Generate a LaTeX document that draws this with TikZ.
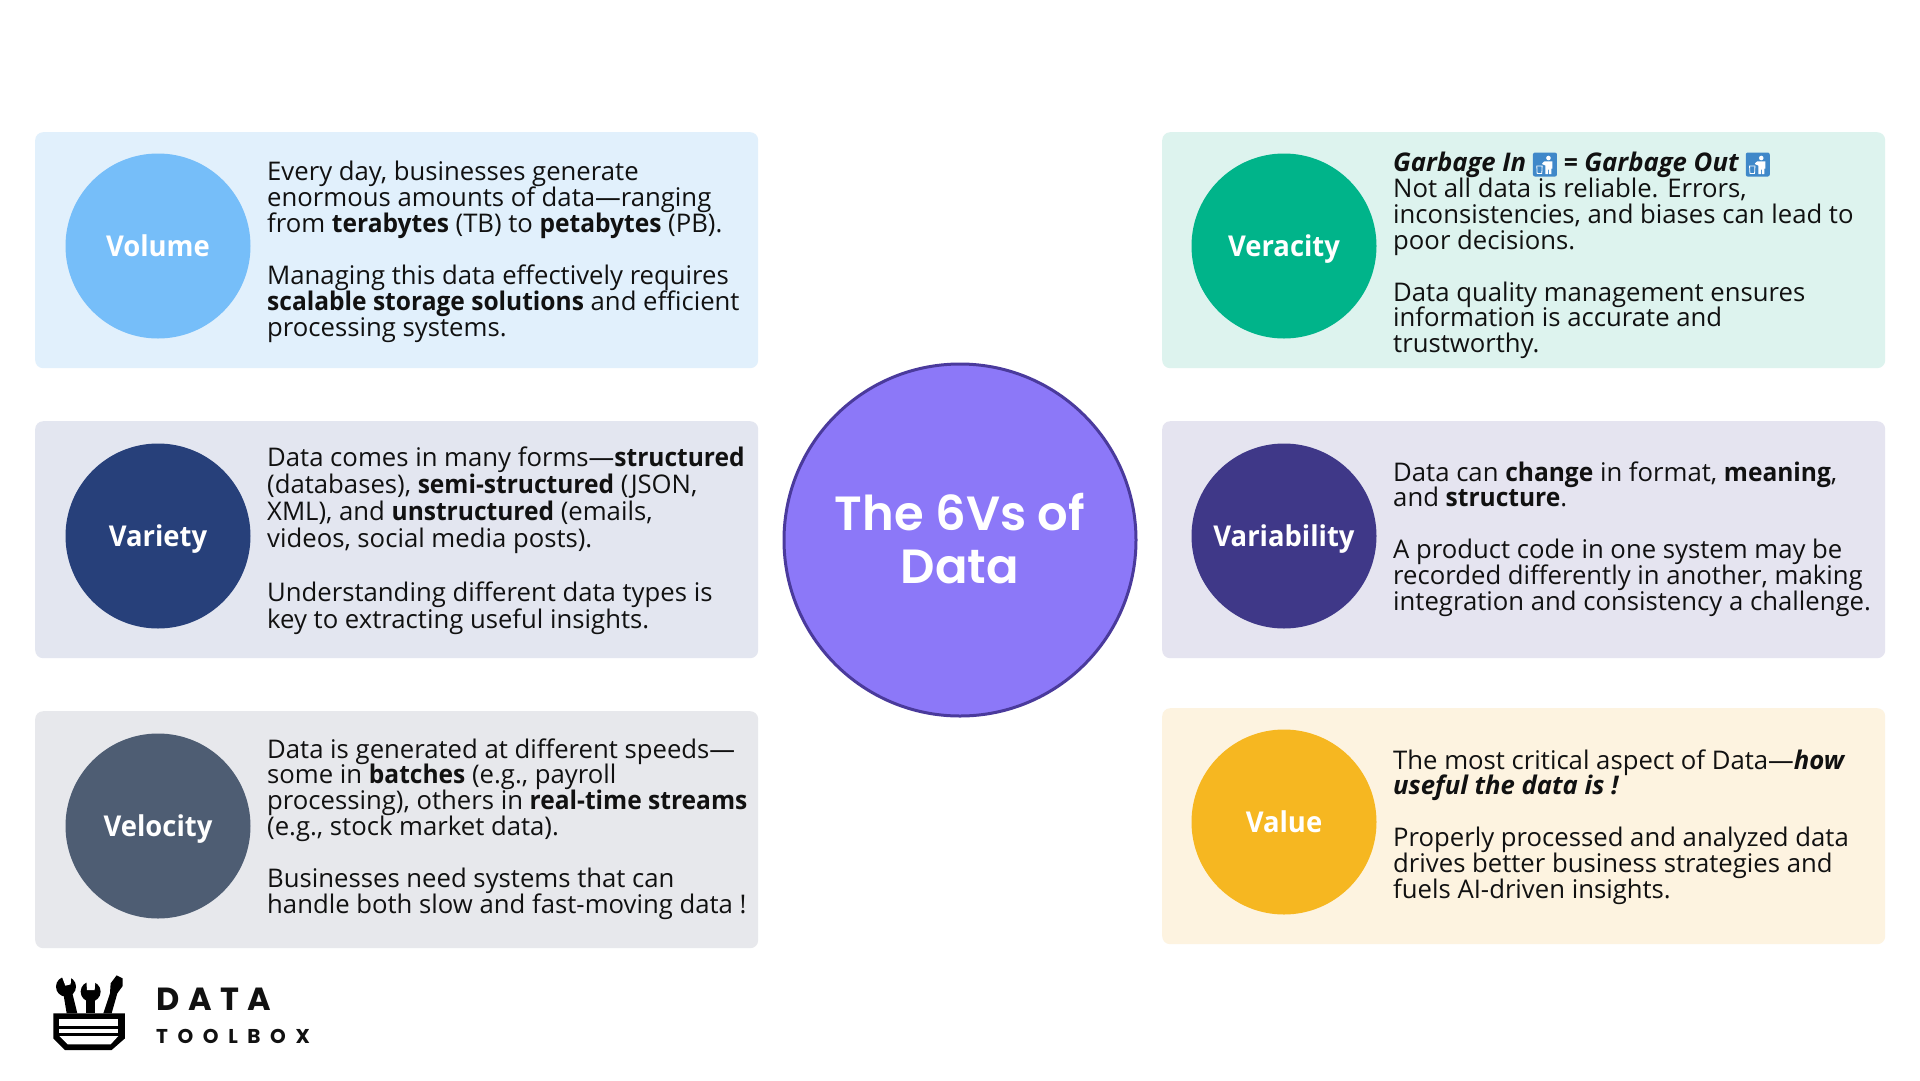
\documentclass[tikz,border=0pt]{standalone}
\usepackage{fontspec}
\setmainfont{Open Sans}[BoldFeatures={FakeStretch=0.955}]
\newfontfamily\titlefont{Poppins SemiBold}
\newfontfamily\logoa[LetterSpace=27]{Poppins}
\newfontfamily\logob[LetterSpace=48]{Poppins}
\definecolor{cardA}{HTML}{E1F0FC}
\definecolor{cardB}{HTML}{E3E6F0}
\definecolor{cardC}{HTML}{E7E8EC}
\definecolor{cardD}{HTML}{DDF3EE}
\definecolor{cardE}{HTML}{E5E4F0}
\definecolor{cardF}{HTML}{FDF3E0}
\definecolor{circA}{HTML}{76BEF9}
\definecolor{circB}{HTML}{27407A}
\definecolor{circC}{HTML}{4E5D73}
\definecolor{circD}{HTML}{00B48A}
\definecolor{circE}{HTML}{3F3888}
\definecolor{circF}{HTML}{F6B721}
\definecolor{bigc}{HTML}{8C78F8}
\definecolor{bigl}{HTML}{4A3A9C}
\definecolor{emojib}{HTML}{3F88C9}
\definecolor{ink}{HTML}{111111}
\newcommand{\litter}{\tikz[baseline={(0,19)},x=1pt,y=-1pt]{%
 \fill[emojib,rounded corners=2pt] (0,0) rectangle (24,24);
 \fill[white] (15.5,5.5) circle (2.3);
 \fill[white] (11.5,8.8) -- (19.5,8.8) -- (19.5,16) -- (18.5,16) -- (18.5,21.5) -- (16,21.5) -- (16,17) -- (15,17) -- (15,21.5) -- (12.5,21.5) -- (12.5,13) -- (9,11.5) -- (9.6,10.4) -- cycle;
 \draw[white,line width=0.8pt] (3.8,13.5) -- (9.2,13.5) -- (8.8,21) -- (4.2,21) -- cycle;
}}
\tikzset{
 card/.style={rounded corners=8pt,draw=none,minimum width=723pt,minimum height=236pt,anchor=north west,inner sep=0pt},
 vcirc/.style={circle,draw=none,minimum size=185pt,inner sep=0pt,text=white,text height=21pt,text depth=0pt,font=\fontsize{28.7}{30}\selectfont\bfseries},
 body/.style={anchor=west,align=left,inner sep=0pt,text=ink,font=\fontsize{25.7}{25.9}\selectfont},
}
\begin{document}
\begin{tikzpicture}[x=1pt,y=-1pt]
\useasboundingbox (0,0) rectangle (1920,1080);
\fill[white] (0,0) rectangle (1920,1080);
% cards
\node[card,fill=cardA] (c1) at (35,132) {};
\node[card,fill=cardB,minimum height=237pt] (c2) at (35,421) {};
\node[card,fill=cardC,minimum height=237pt] (c3) at (35,711) {};
\node[card,fill=cardD] (c4) at (1162,132) {};
\node[card,fill=cardE,minimum height=237pt] (c5) at (1162,421) {};
\node[card,fill=cardF] (c6) at (1162,708) {};
% circles
\node[vcirc,fill=circA] (v1) at (158,246) {Volume};
\node[vcirc,fill=circB] (v2) at (158,536) {Variety};
\node[vcirc,fill=circC] (v3) at (158,826) {Velocity};
\node[vcirc,fill=circD] (v4) at (1284,246) {Veracity};
\node[vcirc,fill=circE] (v5) at (1284,536) {Variability};
\node[vcirc,fill=circF] (v6) at (1284,822) {Value};
% centre
\node[circle,fill=bigc,draw=bigl,line width=3pt,minimum size=352pt,inner sep=0pt,align=center,text=white,font=\titlefont\fontsize{48}{53}\selectfont] (big) at (960,540) {\raisebox{2.5pt}{The 6Vs of}\\\raisebox{2.5pt}{Data}};
% bodies
\node[body] (t1) at (267,252) {Every day, businesses generate\\enormous amounts of data—ranging\\from \textbf{terabytes} (TB) to \textbf{petabytes} (PB).\\[25.9pt]Managing this data effectively requires\\\textbf{scalable storage solutions} and efficient\\processing systems.};
\node[body,font=\fontsize{25.7}{27}\selectfont] (t2) at (267,541) {Data comes in many forms—\textbf{structured}\\(databases), \textbf{semi-structured} (JSON,\\XML), and \textbf{unstructured} (emails,\\videos, social media posts).\\[27pt]Understanding different data types is\\key to extracting useful insights.};
\node[body] (t3) at (267,829) {Data is generated at different speeds—\\some in \textbf{batches} (e.g., payroll\\processing), others in \textbf{real-time streams}\\(e.g., stock market data).\\[25.9pt]Businesses need systems that can\\handle both slow and fast-moving data !};
\node[body] (t4) at (1393,255.5) {\textbf{\textit{Garbage In}} \litter{} \textbf{\textit{= Garbage Out}} \litter{}\\Not all data is reliable. Errors,\\inconsistencies, and biases can lead to\\poor decisions.\\[25.9pt]Data quality management ensures\\information is accurate and\\trustworthy.};
\node[body] (t5) at (1393,539) {Data can \textbf{change} in format, \textbf{meaning},\\and \textbf{structure}.\\[25.9pt]A product code in one system may be\\recorded differently in another, making\\integration and consistency a challenge.};
\node[body] (t6) at (1393,827) {The most critical aspect of Data—\textbf{\textit{how}}\\\textbf{\textit{useful the data is !}}\\[25.9pt]Properly processed and analyzed data\\drives better business strategies and\\fuels AI-driven insights.};
% logo
\begin{scope}[shift={(0,950)},x=0.3333pt,y=-0.3333pt]
\fill[black] (160,190) -- (375,190) -- (375,265) -- (335,300) -- (195,300) -- (160,265) -- cycle;
\fill[white] (178,208) rectangle (355,228);
\fill[white] (178,236) rectangle (355,248);
\fill[white] (178,258) -- (355,258) -- (332,283) -- (203,283) -- cycle;
% wrench 1
\fill[black] (200,190) -- (232,190) -- (216,125) -- (190,130) -- cycle;
\fill[black] (198,110) circle (30);
\fill[white] (185,78) -- (214,72) -- (212,103) -- (196,107) -- cycle;
% wrench 2
\fill[black] (258,190) -- (285,190) -- (285,140) -- (258,140) -- cycle;
\fill[black] (272,125) circle (30);
\fill[white] (259,92) -- (286,92) -- (284,120) -- (261,120) -- cycle;
% screwdriver
\fill[black] (310,190) -- (335,190) -- (352,130) -- (368,108) -- (368,85) -- (350,76) -- (332,100) -- (330,130) -- cycle;
\end{scope}
\node[anchor=west,inner sep=0pt,font=\logoa\bfseries\fontsize{32}{32}\selectfont,text=ink] (logo1) at (156,999) {DATA};
\node[anchor=west,inner sep=0pt,font=\logob\bfseries\fontsize{20}{20}\selectfont,text=ink] (logo2) at (156,1036) {TOOLBOX};
\end{tikzpicture}
\end{document}
